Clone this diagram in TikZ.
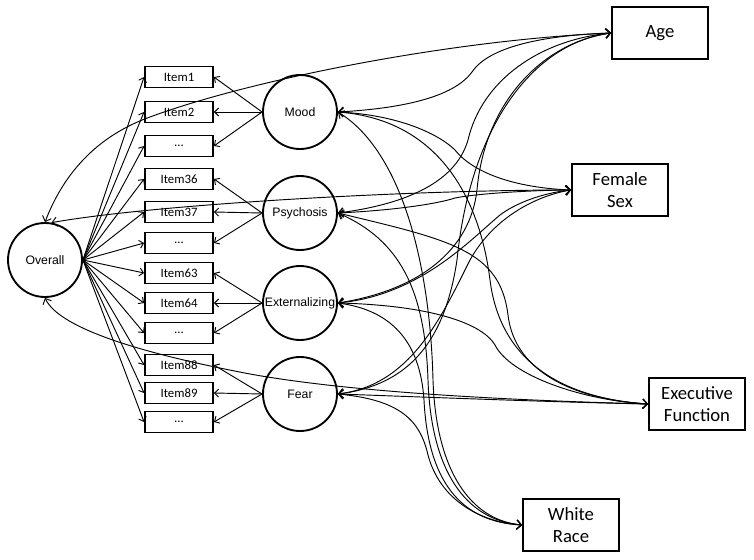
\documentclass[tikz,border=0pt]{standalone}
\usepackage{fontspec}
\setmainfont{Carlito}
\newfontfamily\arialf{Liberation Sans}
\usetikzlibrary{arrows.meta}
\begin{document}
\begin{tikzpicture}[x=0.75pt,y=-0.75pt,
  itembox/.style={draw,line width=1.4pt,minimum width=51pt,minimum height=15.75pt,inner sep=0pt,font=\fontsize{9.6}{11}\selectfont},
  latent/.style={draw,circle,line width=1.4pt,minimum size=55.5pt,inner sep=0pt,font=\arialf\fontsize{9.2}{11}\selectfont},
  cov/.style={draw,line width=1.4pt,minimum width=72pt,minimum height=39pt,align=center,inner sep=0pt,font=\fontsize{14}{17}\selectfont},
  load/.style={-{Straight Barb[length=3pt,width=6pt]},line width=0.7pt},
  corr/.style={{Straight Barb[length=3.5pt,width=7pt]}-{Straight Barb[length=3.5pt,width=7pt]},line width=0.7pt}]
\useasboundingbox (0,0) rectangle (754,560);

% latent variables
\node[latent] (overall) at (45,260) {Overall};
\node[latent] (mood) at (300,112) {Mood};
\node[latent] (psy) at (300,213) {Psychosis};
\node[latent] (ext) at (300,303) {Externalizing};
\node[latent] (fear) at (300,394) {Fear};

% items
\node[itembox] (i1) at (179,77) {Item1};
\node[itembox] (i2) at (179,112) {Item2};
\node[itembox] (i3) at (179,146) {\ldots};
\node[itembox] (i4) at (179,179) {Item36};
\node[itembox] (i5) at (179,212) {Item37};
\node[itembox] (i6) at (179,243) {\ldots};
\node[itembox] (i7) at (179,273) {Item63};
\node[itembox] (i8) at (179,303) {Item64};
\node[itembox] (i9) at (179,333) {\ldots};
\node[itembox] (i10) at (179,365) {Item88};
\node[itembox] (i11) at (179,393) {Item89};
\node[itembox] (i12) at (179,422) {\ldots};

% covariates
\node[cov] (age) at (660,33) {Age};
\node[cov] (female) at (620,190) {Female\\Sex};
\node[cov] (exec) at (697,404) {Executive\\Function};
\node[cov] (white) at (571,525) {White\\Race};

% overall loadings
\foreach \i in {1,...,12} \draw[load] (overall.east) -- (i\i.west);

% factor loadings
\foreach \i in {1,2,3} \draw[load] (mood.west) -- (i\i.east);
\foreach \i in {4,5,6} \draw[load] (psy.west) -- (i\i.east);
\foreach \i in {7,8,9} \draw[load] (ext.west) -- (i\i.east);
\foreach \i in {10,11,12} \draw[load] (fear.west) -- (i\i.east);

% correlations with Age
\draw[corr] (overall.north) .. controls (65,170) and (100,135) .. (150,117) .. controls (250,80) and (450,40) .. (age.west);
\draw[corr] (mood.east) .. controls (410,108) and (455,95) .. (472,72) .. controls (490,45) and (550,35) .. (age.west);
\draw[corr] (psy.east) .. controls (400,205) and (455,185) .. (468,140) .. controls (482,80) and (540,40) .. (age.west);
\draw[corr] (ext.east) .. controls (420,290) and (470,250) .. (477,190) .. controls (485,100) and (545,42) .. (age.west);
\draw[corr] (fear.east) .. controls (410,385) and (445,340) .. (457,260) .. controls (470,130) and (530,44) .. (age.west);

% correlations with Female Sex
\draw[corr] (overall.80) .. controls (150,205) and (400,190) .. (female.west);
\draw[corr] (mood.east) .. controls (400,115) and (440,135) .. (455,150) .. controls (475,175) and (520,188) .. (female.west);
\draw[corr] (psy.east) .. controls (400,210) and (440,203) .. (455,198) .. controls (480,193) and (540,190) .. (female.west);
\draw[corr] (ext.east) .. controls (420,295) and (470,240) .. (500,215) .. controls (520,200) and (550,192) .. (female.west);
\draw[corr] (fear.east) .. controls (410,385) and (440,320) .. (470,260) .. controls (495,215) and (540,195) .. (female.west);

% correlations with Executive Function
\draw[corr] (overall.south) .. controls (60,330) and (150,355) .. (250,374) .. controls (350,392) and (500,400) .. (exec.west);
\draw[corr] (fear.east) .. controls (450,398) and (550,402) .. (exec.west);
\draw[corr] (mood.east) .. controls (440,120) and (480,200) .. (490,280) .. controls (500,360) and (560,398) .. (exec.west);
\draw[corr] (psy.east) .. controls (450,240) and (500,250) .. (508,315) .. controls (515,375) and (580,400) .. (exec.west);
\draw[corr] (ext.east) .. controls (420,305) and (480,320) .. (495,345) .. controls (510,375) and (580,400) .. (exec.west);

% correlations with White Race
\draw[corr] (mood.east) .. controls (400,150) and (430,260) .. (433,380) .. controls (436,470) and (470,520) .. (white.west);
\draw[corr] (psy.east) .. controls (400,240) and (425,290) .. (428,380) .. controls (431,470) and (465,520) .. (white.west);
\draw[corr] (ext.east) .. controls (390,310) and (420,340) .. (424,400) .. controls (428,480) and (460,522) .. (white.west);
\draw[corr] (fear.east) .. controls (400,400) and (420,420) .. (428,455) .. controls (440,500) and (480,522) .. (white.west);
\end{tikzpicture}
\end{document}
